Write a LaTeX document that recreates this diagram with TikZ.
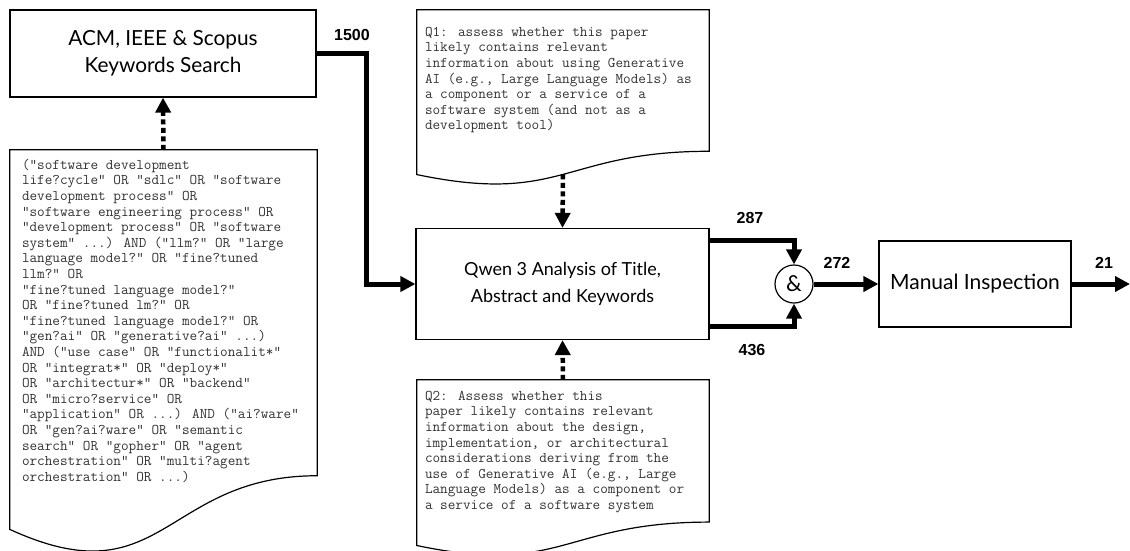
\documentclass[tikz,border=0pt]{standalone}
\usepackage{fontspec}
\setmainfont{Lato}
\newfontfamily\numfont{Liberation Sans}
\usetikzlibrary{positioning,calc,arrows.meta}

\newcommand{\docoutline}[1]{%
  \draw[line width=1.2pt] (#1.north west) -- (#1.north east)
    -- ($(#1.north east)!0.802!(#1.south east)$)
    .. controls ($(#1.north)!0.802!(#1.south)$) and ($(#1.north)!1.1075!(#1.south)$)
    .. ($(#1.north west)!0.934!(#1.south west)$) -- cycle;}

\begin{document}
\begin{tikzpicture}[x=1pt,y=-1pt,
  box/.style={draw,line width=1.2pt,align=center,inner sep=0pt,
    font=\fontsize{18}{26.5}\selectfont},
  doc/.style={rectangle,inner ysep=0pt,text=black!80,
    font=\ttfamily\fontsize{14.8}{15.6}\selectfont},
  flow/.style={line width=5pt,-{Triangle[length=15pt,width=15pt]}},
  dots/.style={line width=4.5pt,dash pattern=on 5pt off 3.5pt,
    -{Triangle[length=15pt,width=15pt]}},
  count/.style={font=\numfont\bfseries\fontsize{16}{18}\selectfont}]
  \useasboundingbox (0,0) rectangle (1130,550);

  \node (acm) [box,minimum width=306pt,minimum height=87pt,
    font=\fontsize{20.8}{27}\selectfont] at (163,53.5)
    {ACM, IEEE \& Scopus\\Keywords Search};
  \node (query) [doc,inner xsep=12pt] at (163.5,353)
    {\parbox[c][406pt][t]{283pt}{\vspace*{9pt}\raggedright
    ("software development\\
    life?cycle" OR "sdlc" OR "software\\
    development process" OR\\
    "software engineering process" OR\\
    "development process" OR "software\\
    system" ...) AND ("llm?" OR "large\\
    language model?" OR "fine?tuned\\
    llm?" OR\\
    "fine?tuned language model?"\\
    OR "fine?tuned lm?" OR\\
    "fine?tuned language model?" OR\\
    "gen?ai" OR "generative?ai" ...)\\
    AND ("use case" OR "functionalit*"\\
    OR "integrat*" OR "deploy*"\\
    OR "architectur*" OR "backend"\\
    OR "micro?service" OR\\
    "application" OR ...) AND ("ai?ware"\\
    OR "gen?ai?ware" OR "semantic\\
    search" OR "gopher" OR "agent\\
    orchestration" OR "multi?agent\\
    orchestration" OR ...)}};
  \node (q1) [doc,inner xsep=8pt] at (563,98)
    {\parbox[c][176pt][t]{276pt}{\vspace*{17pt}\raggedright
    Q1: assess whether this paper\\
    likely contains relevant\\
    information about using Generative\\
    AI (e.g., Large Language Models) as\\
    a component or a service of a\\
    software system (and not as a\\
    development tool)}};
  \node (qwen) [box,minimum width=293pt,minimum height=111pt] at (562.5,284)
    {Qwen 3 Analysis of Title,\\Abstract and Keywords};
  \node (q2) [doc,inner xsep=8pt] at (563,468.5)
    {\parbox[c][177pt][t]{276pt}{\vspace*{11pt}\raggedright
    Q2: Assess whether this\\
    paper likely contains relevant\\
    information about the design,\\
    implementation, or architectural\\
    considerations deriving from the\\
    use of Generative AI (e.g., Large\\
    Language Models) as a component or\\
    a service of a software system}};
  \node (and) [circle,draw,line width=1.2pt,minimum size=38pt,inner sep=0pt,
    font=\fontsize{22}{24}\selectfont] at (794,284) {\&};
  \node (manual) [box,minimum width=192pt,minimum height=86pt,
    font=\fontsize{21}{26}\selectfont] at (975,284)
    {Manual Inspection};
  \coordinate (out) at (1130,284);

  \docoutline{query}
  \docoutline{q1}
  \docoutline{q2}

  \node (n1500) [count] at (352,35) {1500};
  \node (n287) [count] at (750,218) {287};
  \node (n436) [count] at (752,350) {436};
  \node (n272) [count] at (837,263) {272};
  \node (n21) [count] at (1104,263) {21};

  \draw [dots] (query.north) -- (acm.south);
  \draw [dots] ($(q1.north)!0.933!(q1.south)$) -- (qwen.north);
  \draw [dots] (q2.north) -- (qwen.south);
  \draw [flow] (acm.east) -- ++(50,0) |- (qwen.west);
  \draw [flow] ([yshift=44pt]qwen.east) -| (and.north);
  \draw [flow] ([yshift=-42pt]qwen.east) -| (and.south);
  \draw [flow] (and) -- (manual);
  \draw [flow] (manual) -- (out);
\end{tikzpicture}
\end{document}
